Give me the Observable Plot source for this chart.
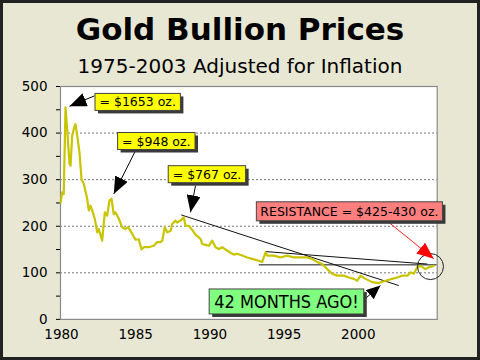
<!DOCTYPE html>
<html>
<head>
<meta charset="utf-8">
<script src="https://cdn.jsdelivr.net/npm/d3@7"></script>
<script src="https://cdn.jsdelivr.net/npm/@observablehq/plot@0.6"></script>
<style>
  html, body { margin: 0; padding: 0; background: #fff; }
  #wrap { position: relative; width: 480px; height: 360px; background: #E7E7D3; overflow: hidden; font-family: "DejaVu Sans", sans-serif; }
  #border { position: absolute; left: 0; top: 0; width: 480px; height: 360px; box-sizing: border-box; border: 3px solid #222; pointer-events: none; z-index: 5; }
  #title { position: absolute; left: 0; width: 480px; top: 14px; text-align: center; font-weight: bold; font-size: 31px; line-height: 31px; color: #000; white-space: nowrap; }
  #subtitle { position: absolute; left: 0; width: 480px; top: 56px; text-align: center; font-size: 20px; line-height: 20px; color: #000; white-space: nowrap; }
  #chart { position: absolute; left: 0; top: 80px; }
</style>
</head>
<body>
<div id="wrap">
  <div id="title">Gold Bullion Prices</div>
  <div id="subtitle">1975-2003 Adjusted for Inflation</div>
  <div id="chart"></div>
  <div id="border"></div>
</div>
<script>
// ---- data ----
const years = [1979.94,1980.05,1980.15,1980.27,1980.38,1980.54,1980.61,1980.72,1980.83,1980.94,1981.06,1981.21,1981.35,1981.50,1981.73,1981.84,1981.95,1982.07,1982.24,1982.41,1982.51,1982.74,1982.92,1983.08,1983.23,1983.37,1983.52,1983.64,1983.86,1984.09,1984.31,1984.49,1984.76,1984.99,1985.21,1985.39,1985.55,1985.66,1985.88,1986.22,1986.45,1986.67,1986.79,1986.96,1987.12,1987.35,1987.46,1987.68,1987.80,1988.02,1988.24,1988.36,1988.58,1988.81,1989.03,1989.25,1989.37,1989.48,1989.70,1989.93,1990.16,1990.38,1990.60,1990.83,1991.05,1991.39,1991.61,1991.84,1992.18,1992.51,1992.85,1993.30,1993.52,1993.75,1993.86,1994.31,1994.76,1995.21,1995.65,1996.11,1996.56,1996.89,1997.23,1997.57,1997.90,1998.24,1998.58,1999.02,1999.36,1999.70,1999.93,2000.15,2000.49,2000.94,2001.38,2001.83,2002.28,2002.62,2002.96,2003.30,2003.52,2003.74,2003.97,2004.19,2004.53,2004.75,2005.09];
const prices = [251,273,269,455,409,334,330,394,409,419,394,359,301,291,259,234,244,234,216,187,194,169,230,223,255,259,226,230,216,198,194,198,184,171,172,150,155,155,155,158,166,166,169,198,187,190,205,212,208,212,219,201,201,192,182,176,173,162,160,158,169,155,151,155,150,143,139,141,137,133,130,126,123,144,137,137,133,137,133,133,133,130,123,119,108,98,94,94,90,87,83,94,87,80,78,83,87,90,94,94,101,98,112,115,108,112,115];

const xTicks = [1980, 1985, 1990, 1995, 2000];
const yTicks = [0, 50, 100, 150, 200, 250, 300, 350, 400, 450, 500];
const gridValues = [100, 200, 300, 400];

// callout labels
const yellowText = ["= $1653 oz.", "= $948 oz.", "= $767 oz."];
const yellowX = [1985.135, 1986.39, 1989.80];
const yellowY = [465.8, 381.9, 310.7];
const pinkText = ["RESISTANCE = $425-430 oz."];
const pinkX = [1999.40];
const pinkY = [231.0];
const greenText = ["42 MONTHS AGO!"];
const greenX = [1995.16];
const greenY = [36.9];

// callout arrows (tail -> tip)
const blackArrowX1 = [1982.224, 1984.987, 1989.030];
const blackArrowY1 = [479.9, 362.2, 287.2];
const blackArrowX2 = [1980.539, 1983.524, 1988.693];
const blackArrowY2 = [457.6, 269.4, 229.9];
const greenArrowX1 = [2000.371], greenArrowY1 = [42.0], greenArrowX2 = [2001.496], greenArrowY2 = [72.7];
const redArrowX1 = [2002.055], redArrowY1 = [208.4], redArrowX2 = [2005.088], redArrowY2 = [130.0];

// trend lines
const trendX1 = [1988.066, 1993.747, 1993.295];
const trendY1 = [224.3, 145.6, 117.1];
const trendX2 = [2002.729, 2004.663, 2005.270];
const trendY2 = [72.7, 118.8, 117.1];

// circled area
const circleX = [2004.865];
const circleY = [113.4];

// ---- build tables ----
const series = years.map((y, i) => ({year: y, price: prices[i]}));
const idx = a => a.map((_, i) => i);

const chart = Plot.plot({
  width: 480,
  height: 277,
  marginLeft: 60,
  marginRight: 43.3,
  marginTop: 6,
  marginBottom: 38.1,
  style: {fontFamily: "DejaVu Sans, sans-serif", fontSize: "13.5px", background: "transparent", color: "#000", overflow: "visible"},
  x: {domain: [1979.933, 2005.317], ticks: xTicks, tickFormat: d => String(d), tickSize: 0, tickPadding: 10, label: null},
  y: {domain: [0, 500], ticks: yTicks, tickFormat: d => (d % 100 === 0 ? String(d) : ""), tickSize: 4, tickPadding: 9, label: null},
  marks: [
    Plot.frame({fill: "white", stroke: "none"}),
    Plot.ruleY(gridValues, {stroke: "#777", strokeDasharray: "2,2", strokeWidth: 1}),
    Plot.frame({stroke: "#8a8a8a", strokeWidth: 1.2}),
    Plot.link(idx(trendX1), {x1: i => trendX1[i], y1: i => trendY1[i], x2: i => trendX2[i], y2: i => trendY2[i], stroke: "#111", strokeWidth: 1}),
    Plot.line(series, {x: "year", y: "price", stroke: "#C9C400", strokeWidth: 2.2, strokeLinejoin: "round"}),
    Plot.dot(idx(circleX), {x: i => circleX[i], y: i => circleY[i], r: 13, stroke: "#222", strokeWidth: 1, fill: "none"}),
    Plot.link(idx(blackArrowX1), {x1: i => blackArrowX1[i], y1: i => blackArrowY1[i], x2: i => blackArrowX2[i], y2: i => blackArrowY2[i], stroke: "#000", strokeWidth: 1, ariaDescription: "arrow-black"}),
    Plot.link(idx(greenArrowX1), {x1: i => greenArrowX1[i], y1: i => greenArrowY1[i], x2: i => greenArrowX2[i], y2: i => greenArrowY2[i], stroke: "#000", strokeWidth: 1, ariaDescription: "arrow-small"}),
    Plot.link(idx(redArrowX1), {x1: i => redArrowX1[i], y1: i => redArrowY1[i], x2: i => redArrowX2[i], y2: i => redArrowY2[i], stroke: "#FF2020", strokeWidth: 1, ariaDescription: "arrow-red"}),
    Plot.text(idx(yellowText), {x: i => yellowX[i], y: i => yellowY[i], text: i => yellowText[i], fontSize: 12.5, fill: "#000", textAnchor: "middle", ariaDescription: "box-yellow"}),
    Plot.text(idx(pinkText), {x: i => pinkX[i], y: i => pinkY[i], text: i => pinkText[i], fontSize: 12.5, fill: "#000", textAnchor: "middle", ariaDescription: "box-pink"}),
    Plot.text(idx(greenText), {x: i => greenX[i], y: i => greenY[i], text: i => greenText[i], fontSize: 18, fontFamily: "DejaVu Sans Condensed", fill: "#000", textAnchor: "middle", ariaDescription: "box-green"})
  ]
});

document.getElementById("chart").appendChild(chart);

// arrowhead markers
const svg = d3.select(chart);
const defs = svg.insert("defs", ":first-child");
function marker(id, color, len, wid) {
  defs.append("marker").attr("id", id).attr("markerUnits", "userSpaceOnUse")
    .attr("viewBox", `0 0 ${len} ${wid}`).attr("refX", len).attr("refY", wid / 2)
    .attr("markerWidth", len).attr("markerHeight", wid).attr("orient", "auto")
    .append("path").attr("d", `M0,0L${len},${wid / 2}L0,${wid}Z`).attr("fill", color);
}
marker("tri-black", "#000", 17, 14);
marker("tri-small", "#000", 14, 12);
marker("tri-red", "#FF0000", 17, 14);
function groups(desc) {
  return svg.selectAll("g").filter(function () { return this.getAttribute("aria-description") === desc; });
}
groups("arrow-black").selectAll("path, line").attr("marker-end", "url(#tri-black)");
groups("arrow-small").selectAll("path, line").attr("marker-end", "url(#tri-small)");
groups("arrow-red").selectAll("path, line").attr("marker-end", "url(#tri-red)");

// label boxes sized from the rendered text
function boxes(desc, fill, padX, padY) {
  groups(desc).selectAll("text").each(function () {
    const b = this.getBBox();
    const t = this.getAttribute("transform");
    const g = this.parentNode;
    const x = b.x - padX, y = b.y - padY, w = b.width + 2 * padX, h = b.height + 2 * padY;
    const sh = document.createElementNS("http://www.w3.org/2000/svg", "rect");
    sh.setAttribute("x", x + 3); sh.setAttribute("y", y + 3); sh.setAttribute("width", w); sh.setAttribute("height", h);
    sh.setAttribute("fill", "#3a3a3a"); sh.setAttribute("stroke", "none");
    const r = document.createElementNS("http://www.w3.org/2000/svg", "rect");
    r.setAttribute("x", x); r.setAttribute("y", y); r.setAttribute("width", w); r.setAttribute("height", h);
    r.setAttribute("fill", fill); r.setAttribute("stroke", "#444"); r.setAttribute("stroke-width", 1);
    if (t) { sh.setAttribute("transform", t); r.setAttribute("transform", t); }
    g.insertBefore(sh, this);
    g.insertBefore(r, this);
  });
}
boxes("box-yellow", "#FFFF00", 4.5, 1);
boxes("box-pink", "#FF7F7F", 4, 2);
boxes("box-green", "#80FF80", 5, 2);
</script>
</body>
</html>
